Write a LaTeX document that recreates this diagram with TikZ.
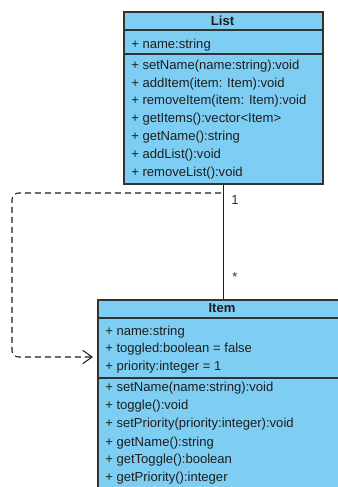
\documentclass[tikz,border=0pt]{standalone}
\usepackage{fontspec}
\setmainfont{Liberation Sans}
\usetikzlibrary{arrows.meta}
\definecolor{classfill}{RGB}{126,206,244}
\definecolor{classline}{RGB}{51,51,51}
\definecolor{classtext}{RGB}{30,30,30}
\tikzset{
  x=0.75pt, y=-0.75pt,
  classbox/.style={draw=classline, line width=1.2pt, fill=classfill, inner sep=0pt, anchor=north west},
  sepline/.style={draw=classline, line width=1.2pt},
  member/.style={anchor=west, inner sep=0pt, font=\fontsize{9.8pt}{11pt}\selectfont, text=classtext},
  classtitle/.style={inner sep=0pt, font=\fontsize{9.8pt}{11pt}\selectfont\bfseries, text=classtext},
  mult/.style={anchor=west, inner sep=0pt, font=\fontsize{9.8pt}{11pt}\selectfont, text=classline},
  assoc/.style={draw=classtext, line width=0.8pt},
  dep/.style={draw=classtext, line width=0.8pt, dash pattern=on 4.5pt off 3pt, rounded corners=5pt,
    -{Straight Barb[length=7pt, width=10pt, line width=0.8pt]}},
}
\begin{document}
\begin{tikzpicture}
\useasboundingbox (0,0) rectangle (338,487);
\begin{scope}
\clip (0,0) rectangle (338,487);

% class List
\node[classbox, minimum width=199*0.75pt, minimum height=172*0.75pt] (list) at (123,11) {};
\draw[sepline] (123,30) -- (322,30);
\draw[sepline] (123,54) -- (322,54);
\node[classtitle] (listname) at (222.5,20.5) {List};
\node[member] (la1) at (131,45) {+ name:string};
\node[member] (lm1) at (131,66) {+ setName(name:string):void};
\node[member] (lm2) at (131,84) {+ addItem(item: Item):void};
\node[member] (lm3) at (131,101.5) {+ removeItem(item: Item):void};
\node[member] (lm4) at (131,119) {+ getItems():vector<Item>};
\node[member] (lm5) at (131,137) {+ getName():string};
\node[member] (lm6) at (131,155) {+ addList():void};
\node[member] (lm7) at (131,173.5) {+ removeList():void};

% class Item
\node[classbox, minimum width=250*0.75pt, minimum height=210*0.75pt] (item) at (97,299) {};
\draw[sepline] (97,318) -- (347,318);
\draw[sepline] (97,378) -- (347,378);
\node[classtitle] (itemname) at (222,308) {Item};
\node[member] (ia1) at (105,332) {+ name:string};
\node[member] (ia2) at (105,349.5) {+ toggled:boolean = false};
\node[member] (ia3) at (105,367.5) {+ priority:integer = 1};
\node[member] (im1) at (105,388) {+ setName(name:string):void};
\node[member] (im2) at (105,406) {+ toggle():void};
\node[member] (im3) at (105,424.5) {+ setPriority(priority:integer):void};
\node[member] (im4) at (105,443) {+ getName():string};
\node[member] (im5) at (105,460.5) {+ getToggle():boolean};
\node[member] (im6) at (105,478.5) {+ getPriority():integer};
\end{scope}

% association List 1 -- * Item
\draw[assoc] (list.south) -- (item.north -| list.south);
\node[mult] (m1) at (231,200) {1};
\node[mult] (m2) at (232,277) {*};

% dependency loop back into Item
\coordinate (depstart) at (221,193);
\coordinate (depend) at (93,357);
\draw[dep] (depstart) -- (12,193) -- (12,357) -- (depend);
\end{tikzpicture}
\end{document}
